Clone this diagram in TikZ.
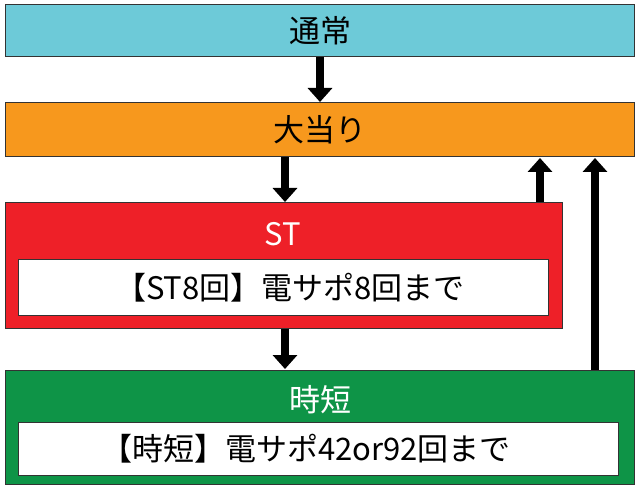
\documentclass[tikz,border=0pt]{standalone}
\usepackage{fontspec}
\setmainfont{Noto Sans CJK JP}
\usetikzlibrary{arrows.meta}
\definecolor{cy}{HTML}{6DCAD8}
\definecolor{orr}{HTML}{F7981D}
\definecolor{rd}{HTML}{EE2028}
\definecolor{gr}{HTML}{0E9447}
\begin{document}
\begin{tikzpicture}[x=1pt,y=-1pt,
 box/.style={draw=black!80,line width=1pt},
 arr/.style={line width=8pt,-{Triangle[length=14pt,width=24pt]}},
 lbl/.style={font=\fontsize{31}{33}\selectfont}]
\useasboundingbox (0,0) rectangle (640,489);
\draw[box,fill=cy] (5,5) rectangle (634,57);
\node[lbl] (a) at (320,31) {通常};
\draw[box,fill=orr] (5,103) rectangle (634,157);
\node[lbl] (b) at (320,130) {大当り};
\draw[box,fill=rd] (5,203) rectangle (562,328);
\node[lbl,text=white] (c) at (283,234) {ST};
\draw[box,fill=white] (18,260) rectangle (548,315);
\node[lbl] (ci) at (290,288) {【ST8回】電サポ8回まで};
\draw[box,fill=gr] (5,370) rectangle (634,484);
\node[lbl,text=white] (d) at (320,400) {時短};
\draw[box,fill=white] (18,422) rectangle (618,475);
\node[lbl] (di) at (306,449) {【時短】電サポ42or92回まで};
\coordinate (a1) at (320,57.5); \coordinate (a2) at (320,102);
\coordinate (b1) at (285,157.5); \coordinate (b2) at (285,202);
\coordinate (c1) at (285,328.5); \coordinate (c2) at (285,369);
\coordinate (c3) at (540,202.5); \coordinate (c4) at (540,158);
\coordinate (d1) at (595,369.5); \coordinate (d2) at (595,158);
\draw[arr] (a1)--(a2);
\draw[arr] (b1)--(b2);
\draw[arr] (c1)--(c2);
\draw[arr] (c3)--(c4);
\draw[arr] (d1)--(d2);
\end{tikzpicture}
\end{document}
